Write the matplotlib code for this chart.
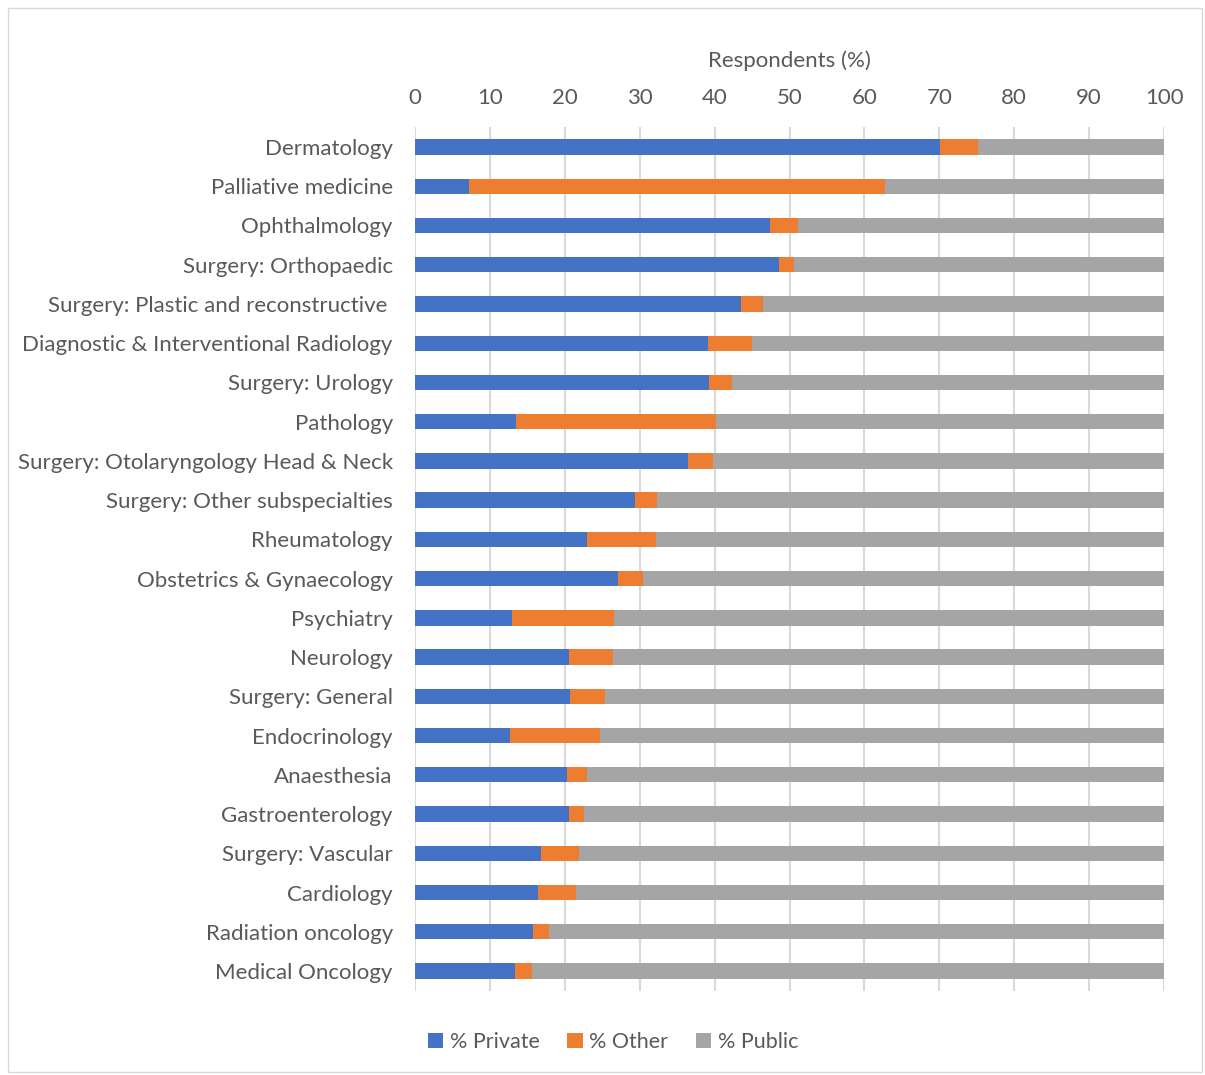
import numpy as np
import matplotlib.pyplot as plt
from matplotlib.patches import Rectangle

# Data (top to bottom)
specialties = [
    "Dermatology", "Palliative medicine", "Ophthalmology", "Surgery: Orthopaedic",
    "Surgery: Plastic and reconstructive ", "Diagnostic & Interventional Radiology",
    "Surgery: Urology", "Pathology", "Surgery: Otolaryngology Head & Neck",
    "Surgery: Other subspecialties", "Rheumatology", "Obstetrics & Gynaecology",
    "Psychiatry", "Neurology", "Surgery: General", "Endocrinology", "Anaesthesia",
    "Gastroenterology", "Surgery: Vascular", "Cardiology", "Radiation oncology",
    "Medical Oncology",
]
pct_private = [70.1, 7.2, 47.4, 48.6, 43.5, 39.1, 39.3, 13.5, 36.5, 29.4, 23.0,
               27.1, 12.9, 20.6, 20.7, 12.7, 20.3, 20.5, 16.8, 16.4, 15.7, 13.3]
pct_other = [5.0, 55.5, 3.7, 2.0, 3.0, 5.9, 3.0, 26.7, 3.3, 2.9, 9.2,
             3.4, 13.7, 5.8, 4.6, 12.0, 2.6, 2.1, 5.1, 5.1, 2.2, 2.3]
pct_public = [100 - p - o for p, o in zip(pct_private, pct_other)]

plt.rcParams['font.family'] = ['Lato', 'DejaVu Sans']
text_col = '#595959'

fig = plt.figure(figsize=(12.05, 10.75), dpi=100)
ax = fig.add_axes([0.3444, 0.0785, 0.6216, 0.803])

y = np.arange(len(specialties))
h = 0.39
ax.barh(y, pct_private, height=h, color='#4472C4', label='% Private', zorder=3)
ax.barh(y, pct_other, left=pct_private, height=h, color='#ED7D31', label='% Other', zorder=3)
left2 = [p + o for p, o in zip(pct_private, pct_other)]
ax.barh(y, pct_public, left=left2, height=h, color='#A5A5A5', label='% Public', zorder=3)

ax.set_xlim(0, 100)
ax.set_ylim(len(specialties) - 0.5, -0.5)
ax.set_xticks(np.arange(0, 101, 10))
ax.set_yticks(y)
ax.set_yticklabels(specialties)
ax.xaxis.tick_top()
ax.xaxis.set_label_position('top')
ax.set_xlabel('Respondents (%)', fontsize=16, color=text_col, labelpad=15)
ax.tick_params(axis='both', length=0, labelsize=16, colors=text_col)
ax.tick_params(axis='y', pad=16)
ax.tick_params(axis='x', pad=14)
ax.grid(axis='x', color='#D9D9D9', linewidth=1.5, zorder=0)
for s in ax.spines.values():
    s.set_visible(False)

fig.legend(loc='center', bbox_to_anchor=(613 / 1205, 1 - 1042 / 1075), ncol=3,
           frameon=False, fontsize=15.5, labelcolor=text_col, handlelength=0.7,
           handleheight=0.7, handletextpad=0.3, columnspacing=1.3)

fig.patches.append(Rectangle((8 / 1205, 0.003), 1194 / 1205, 1 - 8 / 1075 - 0.003,
                             transform=fig.transFigure, fill=False,
                             edgecolor='#D9D9D9', linewidth=1))

fig.savefig('out.png', dpi=100)
